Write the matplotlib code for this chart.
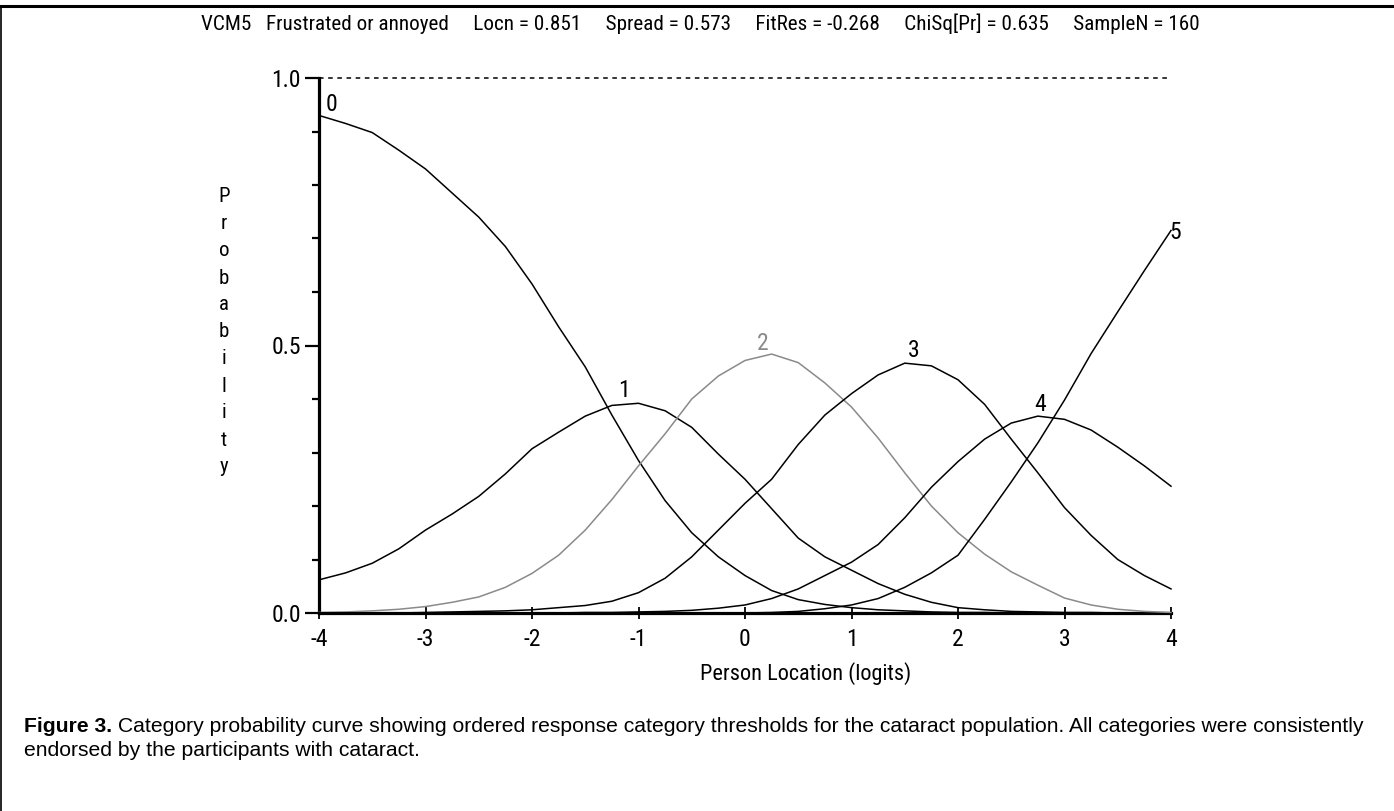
import matplotlib
matplotlib.use('Agg')
import matplotlib.pyplot as plt
from matplotlib import font_manager as fm
from matplotlib.lines import Line2D
import numpy as np

# ---------------- data ----------------
x_logits = [-4.0, -3.75, -3.5, -3.25, -3.0, -2.75, -2.5, -2.25, -2.0, -1.75, -1.5, -1.25,
            -1.0, -0.75, -0.5, -0.25, 0.0, 0.25, 0.5, 0.75, 1.0, 1.25, 1.5, 1.75,
            2.0, 2.25, 2.5, 2.75, 3.0, 3.25, 3.5, 3.75, 4.0]

p_cat0 = [0.930, 0.915, 0.898, 0.865, 0.830, 0.785, 0.740, 0.685, 0.615, 0.535, 0.460, 0.370,
          0.285, 0.210, 0.150, 0.105, 0.070, 0.042, 0.025, 0.016, 0.010, 0.006, 0.004, 0.002,
          0.001, 0.001, 0.0, 0.0, 0.0, 0.0, 0.0, 0.0, 0.0]
p_cat1 = [0.062, 0.075, 0.093, 0.120, 0.155, 0.185, 0.218, 0.260, 0.307, 0.338, 0.368, 0.388,
          0.392, 0.378, 0.347, 0.297, 0.250, 0.195, 0.140, 0.105, 0.080, 0.055, 0.035, 0.020,
          0.010, 0.006, 0.003, 0.002, 0.001, 0.001, 0.0, 0.0, 0.0]
p_cat2 = [0.001, 0.002, 0.004, 0.007, 0.012, 0.020, 0.030, 0.048, 0.074, 0.108, 0.155, 0.212,
          0.275, 0.335, 0.400, 0.443, 0.472, 0.484, 0.468, 0.430, 0.385, 0.327, 0.262, 0.200,
          0.150, 0.110, 0.077, 0.052, 0.028, 0.015, 0.007, 0.003, 0.001]
p_cat3 = [0.0, 0.0, 0.0, 0.0, 0.001, 0.002, 0.003, 0.004, 0.006, 0.010, 0.014, 0.022,
          0.038, 0.065, 0.105, 0.155, 0.205, 0.250, 0.315, 0.370, 0.410, 0.445, 0.467, 0.462,
          0.436, 0.390, 0.325, 0.262, 0.197, 0.145, 0.100, 0.070, 0.045]
p_cat4 = [0.0, 0.0, 0.0, 0.0, 0.0, 0.0, 0.0, 0.0, 0.0, 0.0, 0.001, 0.001,
          0.002, 0.003, 0.005, 0.009, 0.015, 0.027, 0.045, 0.070, 0.095, 0.128, 0.178, 0.235,
          0.283, 0.325, 0.355, 0.368, 0.362, 0.342, 0.310, 0.275, 0.237]
p_cat5 = [0.0, 0.0, 0.0, 0.0, 0.0, 0.0, 0.0, 0.0, 0.0, 0.0, 0.0, 0.0,
          0.0, 0.0, 0.0, 0.0, 0.0, 0.001, 0.003, 0.008, 0.015, 0.027, 0.048, 0.075,
          0.108, 0.175, 0.245, 0.318, 0.398, 0.485, 0.563, 0.640, 0.715]

categories = ['0', '1', '2', '3', '4', '5']
series = [p_cat0, p_cat1, p_cat2, p_cat3, p_cat4, p_cat5]
label_x = [-3.88, -1.14, 0.17, 1.58, 2.77, 4.04]
label_y = [0.95, 0.415, 0.503, 0.49, 0.389, 0.712]

x_ticks = [-4, -3, -2, -1, 0, 1, 2, 3, 4]
x_tick_labels = ['-4', '-3', '-2', '-1', '0', '1', '2', '3', '4']
y_ticks = [0.0, 0.5, 1.0]
y_tick_labels = ['0.0', '0.5', '1.0']

title_text = ("VCM5   Frustrated or annoyed     Locn = 0.851     Spread = 0.573     "
              "FitRes = -0.268     ChiSq[Pr] = 0.635     SampleN = 160")
x_label = 'Person Location (logits)'
y_label = 'Probability'
caption_bold = 'Figure 3.'
caption_line1 = (' Category probability curve showing ordered response category thresholds '
                 'for the cataract population. All categories were consistently')
caption_line2 = 'endorsed by the participants with cataract.'

# ---------------- fonts ----------------
avail = {f.name for f in fm.fontManager.ttflist}
narrow = 'Liberation Sans Narrow' if 'Liberation Sans Narrow' in avail else (
    'Roboto Condensed' if 'Roboto Condensed' in avail else 'DejaVu Sans')
sans = 'Liberation Sans' if 'Liberation Sans' in avail else 'DejaVu Sans'
plt.rcParams['font.family'] = [narrow, 'DejaVu Sans']

W, H = 1394, 811
fig = plt.figure(figsize=(W / 100, H / 100), dpi=100)
fig.patch.set_facecolor('white')

def fx(px):
    return px / W

def fy(py):
    return 1 - py / H

ax = fig.add_axes([fx(319), fy(613), (1171 - 319) / W, (613 - 78) / H])
ax.set_xlim(-4, 4)
ax.set_ylim(0, 1)
ax.patch.set_alpha(0)
for s in ['top', 'right']:
    ax.spines[s].set_visible(False)
for s in ['left', 'bottom']:
    ax.spines[s].set_linewidth(2.3)
    ax.spines[s].set_zorder(2)

ax.axhline(1.0, color='black', lw=1.1, ls=(0, (3, 3)), clip_on=False, zorder=1)

colors = ['black', 'black', '#8a8a8a', 'black', 'black', 'black']
for cat, vals, col, lx, ly in zip(categories, series, colors, label_x, label_y):
    ax.plot(x_logits, vals, color=col, lw=1.1, clip_on=False, zorder=3)
    ax.text(lx, ly, cat, color=col, fontsize=17, ha='center', va='center', zorder=4)

ax.set_xticks(x_ticks)
ax.set_xticklabels(x_tick_labels)
ax.set_yticks(y_ticks)
ax.set_yticklabels(y_tick_labels)
ax.set_yticks(np.arange(0, 1.001, 0.1), minor=True)
ax.tick_params(axis='y', which='major', direction='out', length=10, width=1.6,
               labelsize=17, pad=3)
ax.tick_params(axis='y', which='minor', direction='out', length=5, width=1.6)
ax.tick_params(axis='x', which='major', direction='inout', length=9, width=1.3,
               labelsize=17, pad=6)

# x label
fig.text(fx(806), fy(674), x_label, fontsize=16, ha='center', va='center')
# y label stacked letters
y0, dy = 197, 27
for i, ch in enumerate(y_label):
    fig.text(fx(224), fy(y0 + i * dy), ch, fontsize=15, ha='center', va='center')

renderer = fig.canvas.get_renderer()

def fit_text(x, y, s, target_w, family, weight='normal', ha='left', size0=14):
    t = fig.text(x, y, s, fontsize=size0, family=family, weight=weight, ha=ha, va='center')
    w = t.get_window_extent(renderer).width
    t.set_fontsize(size0 * target_w / w)
    return t

# title
fit_text(fx(700), fy(24), title_text, 1000, [narrow, 'DejaVu Sans'], ha='center')

# caption
tb = fig.text(fx(24), fy(726), caption_bold, fontsize=14, family=sans, weight='bold',
              va='center')
t1 = fig.text(fx(24), fy(726), caption_line1, fontsize=14, family=sans, va='center')
wb = tb.get_window_extent(renderer).width
w1 = t1.get_window_extent(renderer).width
scale = (1378 - 24) / (wb + w1)
fs = 14 * scale
tb.set_fontsize(fs)
t1.set_fontsize(fs)
wb = tb.get_window_extent(renderer).width
t1.set_x(fx(24 + wb))
fig.text(fx(24), fy(751), caption_line2, fontsize=fs, family=sans, va='center')

# figure frame lines (top and left)
fig.add_artist(Line2D([0, 1], [fy(6), fy(6)], color='black', lw=2.2, transform=fig.transFigure))
fig.add_artist(Line2D([fx(1), fx(1)], [fy(6), 0], color='black', lw=1.2, transform=fig.transFigure))

fig.savefig('out.png', dpi=100, facecolor='white')
